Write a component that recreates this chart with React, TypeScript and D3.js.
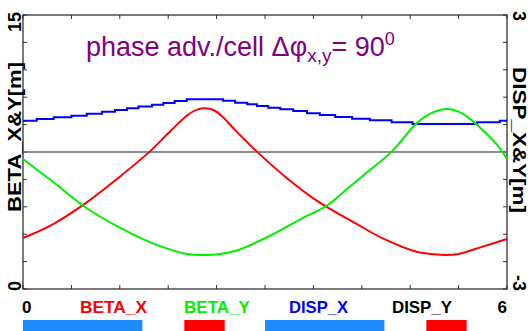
import React from "react";
import * as d3 from "d3";

// ---- data ----
const betaXS = [0, 0.37, 0.79, 1.2, 1.57, 1.82, 2.05, 2.16, 2.26, 2.36, 2.47, 2.63, 2.9, 3.25, 3.66, 4.12, 4.46, 4.88, 5.1, 5.24, 5.4, 5.7, 6.0];
const betaX = [2.79, 3.54, 4.74, 6.15, 7.52, 8.61, 9.55, 9.82, 9.89, 9.8, 9.45, 8.7, 7.52, 6.15, 4.78, 3.6, 2.77, 2.04, 1.9, 1.86, 1.92, 2.32, 2.74];

const betaYS = [0, 0.37, 0.79, 1.2, 1.61, 2.05, 2.26, 2.45, 2.63, 3.04, 3.46, 3.78, 4.05, 4.3, 4.57, 4.88, 5.05, 5.26, 5.45, 5.63, 5.88, 6.0];
const betaY = [7.12, 5.87, 4.42, 3.36, 2.5, 1.9, 1.86, 1.92, 2.08, 2.86, 3.87, 4.6, 5.6, 6.51, 7.52, 9.07, 9.6, 9.85, 9.6, 8.98, 7.88, 7.12];

const dispXS = [0, 0.17, 0.38, 0.6, 0.79, 0.98, 1.14, 1.29, 1.43, 1.6, 1.74, 1.88, 2.03, 2.48, 2.63, 2.78, 2.9, 3.04, 3.19, 3.35, 3.52, 3.68, 3.87, 4.08, 4.3, 4.57, 4.83, 5.63, 5.91, 6.0];
const dispX = [0.685, 0.723, 0.76, 0.795, 0.839, 0.88, 0.92, 0.957, 0.996, 1.036, 1.073, 1.117, 1.154, 1.123, 1.08, 1.044, 1.007, 0.97, 0.935, 0.898, 0.847, 0.81, 0.766, 0.729, 0.694, 0.65, 0.613, 0.65, 0.685, 0.685];

const magnetStart = [0, 2.0, 3.0, 5.0];
const magnetEnd = [1.48, 2.5, 4.48, 5.5];
const magnetKind = ["bend", "quad", "bend", "quad"];

const legendNames = ["BETA_X", "BETA_Y", "DISP_X", "DISP_Y"];
const legendColors = ["#ff0000", "#00ee00", "#0000ff", "#000000"];
const legendX = [80, 184, 289, 392];
const legendW = [67, 66, 59, 60];

const W = 528, H = 331;
const L = 23, R = 507, T = 15, B = 289;
const FONT = "'Liberation Sans', Arial, Helvetica, sans-serif";

export default function App() {
  const x = d3.scaleLinear().domain([0, 6]).range([L, R]);
  const yL = d3.scaleLinear().domain([0, 15]).range([B, T]);
  const yR = d3.scaleLinear().domain([-3, 3]).range([B, T]);

  const smooth = (s: number[], v: number[], ys: d3.ScaleLinear<number, number>) =>
    d3.line<number>().x((_, i) => x(s[i])).y((d) => ys(d)).curve(d3.curveCatmullRom.alpha(0.5))(v) || "";
  const stepped = d3.line<number>().x((_, i) => x(dispXS[i])).y((d) => yR(d)).curve(d3.curveStepAfter)(dispX) || "";

  const xt = d3.range(0, 11).map((i) => x.invert(L + (i * (R - L)) / 10));
  const yt = d3.range(0, 11).map((i) => i * 1.5);

  return (
    <svg width={W} height={H} style={{ position: "absolute", left: 0, top: 0, background: "#fff" }} fontFamily={FONT}>
      <rect x={0} y={0} width={W} height={H} fill="#fff" />
      {yt.map((v, i) => (
        <g key={"yt" + i}>
          <line x1={L} x2={L + 4} y1={yL(v)} y2={yL(v)} stroke="#333" strokeWidth={1} />
          <line x1={R} x2={R - 4} y1={yL(v)} y2={yL(v)} stroke="#333" strokeWidth={1} />
        </g>
      ))}
      {xt.map((v, i) => (
        <g key={"xt" + i}>
          <line x1={x(v)} x2={x(v)} y1={B} y2={B - 4} stroke="#333" strokeWidth={1} />
          <line x1={x(v)} x2={x(v)} y1={T} y2={T + 4} stroke="#333" strokeWidth={1} />
        </g>
      ))}
      <rect x={L} y={T} width={R - L} height={B - T} fill="none" stroke="#222" strokeWidth={1.2} />
      <line x1={L} x2={R} y1={yR(0)} y2={yR(0)} stroke="#666" strokeWidth={1.6} />
      <path d={stepped} fill="none" stroke="#0000ff" strokeWidth={2} />
      <path d={smooth(betaXS, betaX, yL)} fill="none" stroke="#ff0000" strokeWidth={2} />
      <path d={smooth(betaYS, betaY, yL)} fill="none" stroke="#00ee00" strokeWidth={2} />

      <text x={86} y={56} fill="#800080" fontSize={27}>
        phase adv./cell Δφ
        <tspan fontSize={19} dy={6}>x,y</tspan>
        <tspan fontSize={27} dy={-6}>= 90</tspan>
        <tspan fontSize={18} dy={-11}>0</tspan>
      </text>

      <text transform={`translate(21,12) rotate(-90)`} textAnchor="end" fontSize={18} fontWeight="bold">15</text>
      <text transform={`translate(21,291) rotate(-90)`} textAnchor="start" fontSize={18} fontWeight="bold">0</text>
      <text transform={`translate(21,137) rotate(-90)`} textAnchor="middle" fontSize={18} fontWeight="bold"
        textLength={150} lengthAdjust="spacingAndGlyphs">BETA_X&amp;Y[m]</text>
      <text transform={`translate(513,11) rotate(90)`} textAnchor="start" fontSize={18} fontWeight="bold">3</text>
      <text transform={`translate(513,291) rotate(90)`} textAnchor="end" fontSize={18} fontWeight="bold">-3</text>
      <text transform={`translate(513,140) rotate(90)`} textAnchor="middle" fontSize={18} fontWeight="bold"
        textLength={146} lengthAdjust="spacingAndGlyphs">DISP_X&amp;Y[m]</text>

      <text x={22} y={313} fontSize={17} fontWeight="bold">0</text>
      <text x={507} y={313} fontSize={17} fontWeight="bold" textAnchor="end">6</text>
      {legendNames.map((n, i) => (
        <text key={n} x={legendX[i]} y={313} fontSize={17} fontWeight="bold" fill={legendColors[i]}
          textLength={legendW[i]} lengthAdjust="spacingAndGlyphs">{n}</text>
      ))}

      {magnetStart.map((s, i) => (
        <rect key={"m" + i} x={x(s)} y={320} width={x(magnetEnd[i]) - x(s)} height={12}
          fill={magnetKind[i] === "bend" ? "#1e8cff" : "#ff0000"} />
      ))}
    </svg>
  );
}
